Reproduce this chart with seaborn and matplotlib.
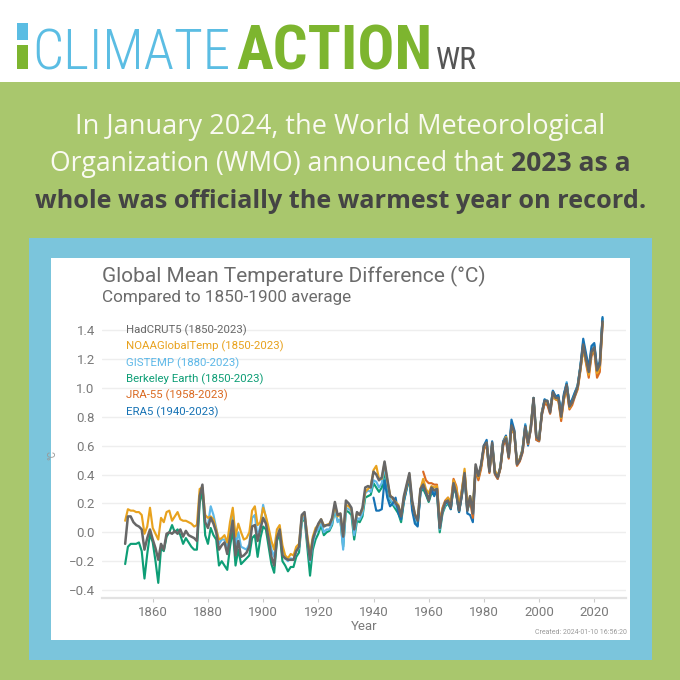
import numpy as np
import pandas as pd
import matplotlib
matplotlib.use('Agg')
import matplotlib.pyplot as plt
from matplotlib.patches import Rectangle
from matplotlib import font_manager
import seaborn as sns

# anomalies vs 1850-1900 (°C)
hadcrut5 = [
    -0.08, 0.11, 0.11, 0.07, 0.05, 0.04, 0.02, -0.12, -0.04, 0.02,
    -0.05, -0.11, -0.19, -0.08, -0.12, -0.01, 0.00, -0.01, 0.01, -0.01,
    0.02, -0.03, 0.01, -0.02, -0.03, -0.04, -0.06, 0.25, 0.33, 0.07,
    0.03, 0.10, 0.06, 0.00, -0.12, -0.09, -0.07, -0.15, -0.04, 0.08,
    -0.16, -0.06, -0.17, -0.16, -0.14, -0.10, 0.04, 0.05, -0.06, 0.02,
    0.10, 0.06, -0.05, -0.17, -0.23, -0.04, 0.02, -0.16, -0.18, -0.19,
    -0.19, -0.19, -0.13, -0.10, 0.12, 0.14, -0.05, -0.19, -0.05, 0.01,
    0.06, 0.09, 0.04, 0.05, 0.05, 0.10, 0.21, 0.12, 0.13, -0.03,
    0.22, 0.20, 0.17, 0.02, 0.14, 0.12, 0.17, 0.31, 0.32, 0.31,
    0.42, 0.40, 0.36, 0.38, 0.49, 0.37, 0.25, 0.24, 0.20, 0.18,
    0.11, 0.25, 0.33, 0.41, 0.22, 0.12, 0.08, 0.30, 0.33, 0.28,
    0.22, 0.31, 0.29, 0.30, 0.03, 0.15, 0.21, 0.22, 0.17, 0.34,
    0.27, 0.15, 0.26, 0.41, 0.15, 0.25, 0.13, 0.47, 0.39, 0.47,
    0.60, 0.62, 0.42, 0.62, 0.41, 0.38, 0.45, 0.62, 0.65, 0.52,
    0.74, 0.70, 0.47, 0.50, 0.56, 0.73, 0.62, 0.72, 0.93, 0.66,
    0.64, 0.82, 0.91, 0.91, 0.83, 0.97, 0.93, 0.93, 0.80, 0.94,
    1.02, 0.87, 0.90, 0.95, 1.01, 1.14, 1.30, 1.20, 1.11, 1.25,
    1.28, 1.12, 1.16, 1.46,
]
noaa = [
    0.08, 0.16, 0.15, 0.15, 0.14, 0.14, 0.12, -0.01, 0.04, 0.17,
    0.03, -0.01, -0.05, 0.10, 0.07, 0.14, 0.15, 0.08, 0.11, 0.14,
    0.09, 0.08, 0.08, 0.07, 0.06, 0.04, 0.05, 0.30, 0.31, 0.12,
    0.10, 0.11, 0.09, 0.02, -0.05, -0.04, -0.02, -0.07, 0.07, 0.17,
    -0.03, 0.06, 0.00, -0.05, -0.04, 0.00, 0.15, 0.18, 0.05, 0.07,
    0.17, 0.11, 0.03, -0.06, -0.12, 0.02, 0.05, -0.09, -0.16, -0.18,
    -0.15, -0.16, -0.10, -0.08, 0.11, 0.13, -0.02, -0.15, -0.03, 0.03,
    0.05, 0.09, 0.05, 0.05, 0.06, 0.09, 0.19, 0.11, 0.13, -0.02,
    0.19, 0.18, 0.16, 0.03, 0.13, 0.12, 0.16, 0.28, 0.30, 0.32,
    0.43, 0.46, 0.37, 0.37, 0.48, 0.36, 0.26, 0.23, 0.21, 0.19,
    0.12, 0.24, 0.32, 0.40, 0.21, 0.13, 0.09, 0.30, 0.37, 0.30,
    0.27, 0.32, 0.31, 0.32, 0.06, 0.16, 0.21, 0.24, 0.20, 0.36,
    0.31, 0.18, 0.29, 0.44, 0.19, 0.25, 0.18, 0.45, 0.38, 0.46,
    0.59, 0.62, 0.43, 0.60, 0.43, 0.39, 0.45, 0.62, 0.66, 0.53,
    0.72, 0.69, 0.48, 0.51, 0.57, 0.72, 0.62, 0.74, 0.92, 0.66,
    0.64, 0.83, 0.90, 0.90, 0.85, 0.95, 0.92, 0.92, 0.79, 0.92,
    1.01, 0.86, 0.90, 0.95, 1.00, 1.13, 1.27, 1.18, 1.09, 1.24,
    1.26, 1.10, 1.14, 1.45,
]
berkeley = [
    -0.22, -0.10, -0.08, -0.08, -0.08, -0.07, -0.13, -0.32, -0.15, -0.01,
    -0.07, -0.20, -0.35, -0.11, -0.13, -0.03, 0.00, 0.05, 0.00, 0.02,
    -0.02, -0.08, -0.04, -0.07, -0.10, -0.12, -0.12, 0.20, 0.29, -0.02,
    -0.08, 0.03, -0.02, -0.05, -0.23, -0.20, -0.23, -0.26, -0.10, 0.02,
    -0.23, -0.12, -0.22, -0.20, -0.18, -0.16, -0.04, -0.02, -0.17, -0.04,
    0.04, 0.02, -0.10, -0.22, -0.28, -0.06, -0.01, -0.20, -0.23, -0.27,
    -0.24, -0.24, -0.17, -0.14, 0.07, 0.10, -0.10, -0.30, -0.12, -0.05,
    -0.01, 0.05, -0.02, 0.00, 0.01, 0.05, 0.16, 0.08, 0.08, -0.10,
    0.15, 0.14, 0.12, -0.05, 0.08, 0.07, 0.11, 0.24, 0.25, 0.26,
    0.34, 0.31, 0.28, 0.31, 0.42, 0.31, 0.22, 0.19, 0.16, 0.13,
    0.07, 0.21, 0.30, 0.37, 0.18, 0.09, 0.05, 0.28, 0.30, 0.26,
    0.21, 0.27, 0.26, 0.27, 0.00, 0.13, 0.18, 0.20, 0.16, 0.31,
    0.26, 0.14, 0.26, 0.39, 0.15, 0.22, 0.15, 0.44, 0.37, 0.46,
    0.59, 0.60, 0.42, 0.61, 0.41, 0.38, 0.45, 0.62, 0.66, 0.52,
    0.74, 0.69, 0.47, 0.50, 0.57, 0.74, 0.62, 0.73, 0.93, 0.67,
    0.65, 0.82, 0.91, 0.91, 0.84, 0.97, 0.93, 0.94, 0.81, 0.94,
    1.03, 0.88, 0.91, 0.96, 1.02, 1.15, 1.29, 1.20, 1.11, 1.25,
    1.29, 1.12, 1.16, 1.48,
]
gistemp = [
    0.05, 0.18, 0.12, 0.03, -0.08, -0.05, -0.05, -0.10, 0.02, 0.15,
    -0.09, 0.00, -0.10, -0.11, -0.12, -0.08, 0.10, 0.12, -0.04, 0.05,
    0.19, 0.10, 0.00, -0.12, -0.17, -0.03, 0.01, -0.13, -0.18, -0.20,
    -0.18, -0.19, -0.13, -0.11, 0.08, 0.11, -0.06, -0.20, -0.08, 0.00,
    0.02, 0.07, 0.00, 0.02, 0.02, 0.06, 0.17, 0.07, 0.09, -0.12,
    0.17, 0.16, 0.15, -0.02, 0.10, 0.09, 0.13, 0.27, 0.29, 0.28,
    0.36, 0.35, 0.31, 0.34, 0.45, 0.34, 0.23, 0.20, 0.18, 0.16,
    0.09, 0.22, 0.31, 0.38, 0.20, 0.10, 0.06, 0.28, 0.33, 0.28,
    0.23, 0.29, 0.28, 0.30, 0.02, 0.14, 0.19, 0.21, 0.17, 0.33,
    0.27, 0.15, 0.27, 0.40, 0.16, 0.23, 0.14, 0.45, 0.38, 0.46,
    0.60, 0.63, 0.43, 0.61, 0.42, 0.38, 0.46, 0.63, 0.66, 0.53,
    0.75, 0.70, 0.48, 0.51, 0.58, 0.75, 0.63, 0.73, 0.92, 0.67,
    0.65, 0.83, 0.92, 0.91, 0.85, 0.98, 0.94, 0.94, 0.81, 0.95,
    1.04, 0.88, 0.92, 0.97, 1.02, 1.16, 1.32, 1.22, 1.13, 1.27,
    1.30, 1.14, 1.17, 1.48,
]
jra55 = [
    0.42, 0.36,
    0.34, 0.34, 0.33, 0.33, 0.07, 0.17, 0.22, 0.24, 0.20, 0.37,
    0.32, 0.18, 0.29, 0.42, 0.16, 0.22, 0.10, 0.44, 0.36, 0.44,
    0.57, 0.61, 0.41, 0.60, 0.40, 0.37, 0.44, 0.60, 0.64, 0.51,
    0.72, 0.68, 0.46, 0.49, 0.55, 0.71, 0.61, 0.71, 0.91, 0.64,
    0.63, 0.81, 0.89, 0.88, 0.82, 0.95, 0.92, 0.91, 0.77, 0.92,
    0.99, 0.85, 0.88, 0.94, 0.99, 1.12, 1.28, 1.17, 1.07, 1.22,
    1.26, 1.07, 1.11, 1.44,
]
era5 = [
    0.24, 0.15, 0.15, 0.16, 0.36, 0.24, 0.18, 0.20, 0.24, 0.13,
    0.09, 0.22, 0.30, 0.38, 0.15, 0.06, 0.04, 0.27, 0.34, 0.27,
    0.22, 0.30, 0.25, 0.31, 0.03, 0.15, 0.20, 0.21, 0.16, 0.33,
    0.27, 0.14, 0.25, 0.40, 0.13, 0.12, 0.07, 0.42, 0.38, 0.46,
    0.60, 0.64, 0.43, 0.63, 0.41, 0.37, 0.45, 0.63, 0.67, 0.54,
    0.78, 0.71, 0.47, 0.50, 0.57, 0.74, 0.60, 0.72, 0.93, 0.64,
    0.63, 0.83, 0.92, 0.90, 0.84, 0.98, 0.94, 0.95, 0.82, 0.96,
    1.03, 0.89, 0.92, 0.97, 1.01, 1.15, 1.34, 1.24, 1.14, 1.29,
    1.31, 1.14, 1.18, 1.49,
]

labels = ['HadCRUT5 (1850-2023)', 'NOAAGlobalTemp (1850-2023)', 'GISTEMP (1880-2023)',
          'Berkeley Earth (1850-2023)', 'JRA-55 (1958-2023)', 'ERA5 (1940-2023)']
names = ['HadCRUT5', 'NOAAGlobalTemp', 'GISTEMP', 'Berkeley Earth', 'JRA-55', 'ERA5']
starts = [1850, 1850, 1880, 1850, 1958, 1940]
series = [hadcrut5, noaa, gistemp, berkeley, jra55, era5]
colors = ['#676767', '#E8A21E', '#5DB8E8', '#0E9E76', '#DA6A22', '#1672B4']
year_ticks = [1860, 1880, 1900, 1920, 1940, 1960, 1980, 2000, 2020]
temp_ticks = [-0.4, -0.2, 0.0, 0.2, 0.4, 0.6, 0.8, 1.0, 1.2, 1.4]

frames = []
for n, s, v in zip(names, starts, series):
    frames.append(pd.DataFrame({'Year': np.arange(s, s + len(v)), 'Temp': v, 'Dataset': n}))
df = pd.concat(frames, ignore_index=True)

sns.set_theme(style='white')
plt.rcParams['font.family'] = ['Roboto', 'DejaVu Sans']

W = 680.0
fig = plt.figure(figsize=(6.8, 6.8), dpi=100)
fig.patch.set_facecolor('white')


def box(x0, y0, x1, y1, c, z=-10):
    fig.add_artist(Rectangle((x0 / W, 1 - y1 / W), (x1 - x0) / W, (y1 - y0) / W,
                             transform=fig.transFigure, facecolor=c, edgecolor='none', zorder=z))


def ftxt(x, y, s, **kw):
    return fig.text(x / W, 1 - y / W, s, **kw)


# backgrounds
box(0, 82, 680, 680, '#A9C76D')
box(29, 238, 652, 660, '#7BC5DC', -9)
box(51, 258, 630, 640, 'white', -8)

# logo
box(17, 23, 28, 40, '#5BBDE3')
box(17, 45, 28, 69, '#7DB52F')
fnames = {f.name for f in font_manager.fontManager.ttflist}
cond = next((n for n in ['Roboto Condensed', 'Liberation Sans Narrow', 'Open Sans Condensed',
                         'DejaVu Sans Condensed'] if n in fnames), 'DejaVu Sans')
renderer = fig.canvas.get_renderer()


def fit(t, w):
    cur = t.get_window_extent(renderer).width
    t.set_fontsize(t.get_fontsize() * w / cur)


t1 = ftxt(32, 69, 'CLIMATE', family=cond, fontsize=40, color='#5BBDE3', weight='light')
fit(t1, 198)
t2 = ftxt(236, 69, 'ACTION', family=cond, fontsize=40, color='#7DB52F', weight='bold')
fit(t2, 196)
t3 = ftxt(436, 69, 'WR', family=cond, fontsize=20, color='#555555')
fit(t3, 41)

# headline
hfont = ['Open Sans', 'DejaVu Sans']
l1 = ftxt(340, 134, 'In January 2024, the World Meteorological', family=hfont,
          fontsize=17, color='#FAFAF2', ha='center')
fit(l1, 531)
hs = l1.get_fontsize()
a = ftxt(0, 171, 'Organization (WMO) announced that ', family=hfont, fontsize=hs, color='#FAFAF2')
b = ftxt(0, 171, '2023 as a', family=hfont, fontsize=hs, color='#444444', weight='bold')
wa = a.get_window_extent(renderer).width
wb = b.get_window_extent(renderer).width
k = 580 / (wa + wb)
a.set_fontsize(hs * k)
b.set_fontsize(hs * k)
wa, wb = wa * k, wb * k
x0 = 340 - (wa + wb) / 2
a.set_x(x0 / W)
b.set_x((x0 + wa) / W)
l3 = ftxt(341, 208, 'whole was officially the warmest year on record.', family=hfont,
          fontsize=hs, color='#444444', weight='bold', ha='center')
fit(l3, 611)

# chart
ax = fig.add_axes([101.7 / W, 1 - 597.7 / W, (626 - 101.7) / W, (597.7 - 312.7) / W])
ax.set_facecolor('none')
order = ['Berkeley Earth', 'GISTEMP', 'ERA5', 'JRA-55', 'NOAAGlobalTemp', 'HadCRUT5']
sns.lineplot(data=df, x='Year', y='Temp', hue='Dataset', hue_order=order,
             palette=dict(zip(names, colors)), estimator=None, errorbar=None,
             linewidth=1.55, legend=False, ax=ax)
ax.lines[-1].set_linewidth(1.8)
ax.set_xlim(1841.5, 2031.5)
ax.set_ylim(-0.4526, 1.52)
ax.set_xticks(year_ticks)
ax.set_xticklabels([str(y) for y in year_ticks])
ax.set_yticks(temp_ticks)
ax.set_yticklabels([f'{v:.1f}'.replace('-', '\u2212') for v in temp_ticks])
ax.grid(axis='y', color='#EEEEEE', linewidth=1)
ax.grid(axis='x', visible=False)
for s in ['left', 'top', 'right']:
    ax.spines[s].set_visible(False)
ax.spines['bottom'].set_color('#E2E2E2')
ax.spines['bottom'].set_linewidth(1.6)
ax.tick_params(axis='y', length=0, pad=5, labelsize=9.5, labelcolor='#7A7A7A')
ax.tick_params(axis='x', length=3, width=0.8, color='#CCCCCC', pad=3, labelsize=9.5,
               labelcolor='#7A7A7A', bottom=True)
ax.set_xlabel('Year', fontsize=9.5, color='#7A7A7A', labelpad=1)
ax.set_ylabel('°C', fontsize=7, color='#999999')
ax.yaxis.set_label_coords(-0.085, 0.5)

tt = ftxt(102, 282, 'Global Mean Temperature Difference (°C)', fontsize=15, color='#6B6B6B')
fit(tt, 385)
st = ftxt(102, 302, 'Compared to 1850-1900 average', fontsize=11, color='#6B6B6B')
fit(st, 249)

for i, (lab, c) in enumerate(zip(labels, colors)):
    ftxt(126, 330 + i * 16.4, lab, fontsize=8.2, color=c, va='center')

ftxt(627, 633, 'Created: 2024-01-10 16:56:20', fontsize=5, color='#9A9A9A', ha='right', va='center')

fig.savefig('out.png', dpi=100, facecolor=fig.get_facecolor())
